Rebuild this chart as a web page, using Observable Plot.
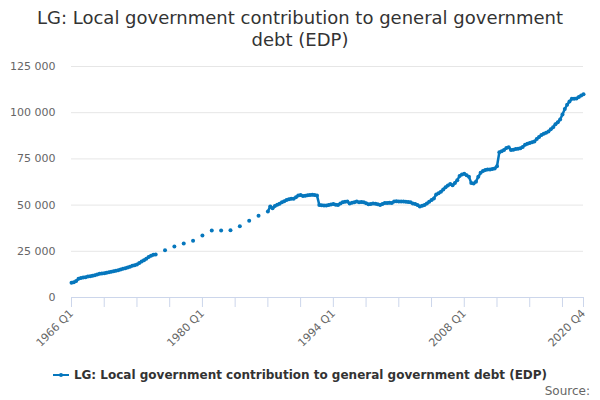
<!DOCTYPE html>
<html>
<head>
<meta charset="utf-8">
<script src="https://cdn.jsdelivr.net/npm/d3@7"></script>
<script src="https://cdn.jsdelivr.net/npm/@observablehq/plot@0.6"></script>
<style>
  html, body { margin: 0; padding: 0; background: #fff; }
  body { width: 600px; height: 400px; overflow: hidden; font-family: "DejaVu Sans", sans-serif; }
  #title { height: 50px; box-sizing: border-box; padding-top: 7px; text-align: center; font-size: 18px; line-height: 22px; color: #333; }
  #legend { margin-top: 17px; height: 16px; line-height: 16px; text-align: center; font-size: 12px; font-weight: bold; color: #333; white-space: nowrap; }
  #legend svg { vertical-align: middle; margin-right: 5px; position: relative; top: -1px; }
  #source { height: 16px; line-height: 16px; text-align: right; padding-right: 10px; font-size: 12px; color: #666; }
</style>
</head>
<body>
<div id="title">LG: Local government contribution to general government<br>debt (EDP)</div>
<div id="chart"></div>
<div id="legend"><svg width="16" height="10"><line x1="0" y1="5" x2="16" y2="5" stroke="#0677bd" stroke-width="2"/><circle cx="8" cy="5" r="2" fill="#0677bd"/></svg>LG: Local government contribution to general government debt (EDP)</div>
<div id="source">Source:</div>
<script>
const seriesName = "LG: Local government contribution to general government debt (EDP)";
const color = "#0677bd";
const firstYear = 1966;
const lastYear = 2020;

// Quarterly values, 1966 Q1 – 1975 Q1
const quarterly1966to1975 = [
  8000, 8200, 8900, 10100,
  10500, 10800, 11000, 11300,
  11500, 11800, 12100, 12400,
  12800, 13000, 13100, 13400,
  13700, 14000, 14200, 14500,
  14800, 15200, 15500, 15800,
  16200, 16700, 17200, 17400,
  17900, 18700, 19500, 20200,
  21000, 21900, 22600, 23100,
  23300
];

// Annual values (Q1 only), 1976 – 1986
const annualYears = [1976, 1977, 1978, 1979, 1980, 1981, 1982, 1983, 1984, 1985, 1986];
const annualValues = [25600, 27600, 29200, 30700, 33500, 36250, 36250, 36400, 38600, 41500, 44200];

// Quarterly values, 1987 Q1 – 2020 Q4
const quarterly1987to2020 = [
  46500, 49300, 48300, 49500,
  50200, 50700, 51500, 52100,
  52700, 53200, 53400, 53400,
  54200, 55200, 55400, 54900,
  55000, 55300, 55500, 55600,
  55400, 55200, 50100, 49900,
  49800, 49800, 50000, 50300,
  50600, 50200, 50100, 50800,
  51500, 51800, 51900, 50800,
  51300, 51600, 51900, 51500,
  51700, 51600, 51000, 50400,
  50600, 50900, 50700, 50400,
  50100, 50600, 51100, 51200,
  51300, 51200, 51900, 52100,
  52000, 51900, 51900, 51800,
  51700, 51500, 50900, 50600,
  50000, 49300, 49600, 50100,
  50800, 51800, 52700, 53600,
  55800, 56400, 57200, 58400,
  59700, 60600, 61400, 60700,
  62000, 63500, 65700, 66600,
  66900, 66200, 65300, 62000,
  61700, 62700, 65300, 67500,
  68500, 69000, 69200, 69300,
  69500, 69800, 71000, 78600,
  79200, 79800, 80900, 81300,
  79800, 80000, 80400, 80500,
  80700, 81500, 82600, 83200,
  83600, 84000, 84400, 85800,
  86900, 87900, 88600, 89200,
  89800, 91000, 92100, 93800,
  94800, 96300, 99000, 102000,
  104300, 106000, 107500, 107600,
  107700, 108500, 109300, 110000
];

const xTickLabels = ["1966 Q1", "1980 Q1", "1994 Q1", "2008 Q1", "2020 Q4"];
const yTicks = [0, 25000, 50000, 75000, 100000, 125000];

// Build category list and table
const categories = [];
for (let y = firstYear; y <= lastYear; y++) for (let q = 1; q <= 4; q++) categories.push(`${y} Q${q}`);
const valueMap = new Map();
quarterly1966to1975.forEach((v, i) => valueMap.set(categories[i], v));
annualYears.forEach((y, i) => valueMap.set(`${y} Q1`, annualValues[i]));
const start1987 = categories.indexOf("1987 Q1");
quarterly1987to2020.forEach((v, i) => valueMap.set(categories[start1987 + i], v));
const data = categories.map(c => ({ period: c, value: valueMap.has(c) ? valueMap.get(c) : NaN }));
const defined = data.filter(d => !isNaN(d.value));

// tick positions every 14 quarters plus last
const xTicks = [];
for (let i = 0; i < categories.length; i += 14) xTicks.push(categories[i]);
xTicks.push(categories[categories.length - 1]);

const fmt = v => d3.format(",")(v).replace(/,/g, " ");

const chart = Plot.plot({
  width: 600,
  height: 300,
  marginLeft: 71,
  marginRight: 17,
  marginTop: 16,
  marginBottom: 53,
  style: { fontFamily: "DejaVu Sans, sans-serif", fontSize: "11px", color: "#666", overflow: "visible" },
  x: { type: "point", domain: categories, padding: 0, label: null },
  y: { domain: [0, 125000], label: null },
  marks: [
    Plot.gridY(yTicks.filter(t => t > 0), { stroke: "#e6e6e6", strokeOpacity: 1 }),
    Plot.axisY({ ticks: yTicks, tickFormat: fmt, tickSize: 0, tickPadding: 16, fill: "#666", fontSize: 11, label: null }),
    Plot.ruleY([0], { stroke: "#ccd6eb" }),
    Plot.axisX({
      ticks: xTicks,
      tickFormat: d => xTickLabels.includes(d) ? d : "",
      tickSize: 10, tickPadding: 4, tickRotate: -45,
      stroke: "#ccd6eb", fill: "#666", fontSize: 11, label: null
    }),
    Plot.line(data, { x: "period", y: "value", stroke: color, strokeWidth: 2.5 }),
    Plot.dot(defined, { x: "period", y: "value", fill: color, r: 2, title: d => `${seriesName}: ${d.period} ${d.value}` })
  ]
});
document.getElementById("chart").appendChild(chart);
</script>
</body>
</html>
